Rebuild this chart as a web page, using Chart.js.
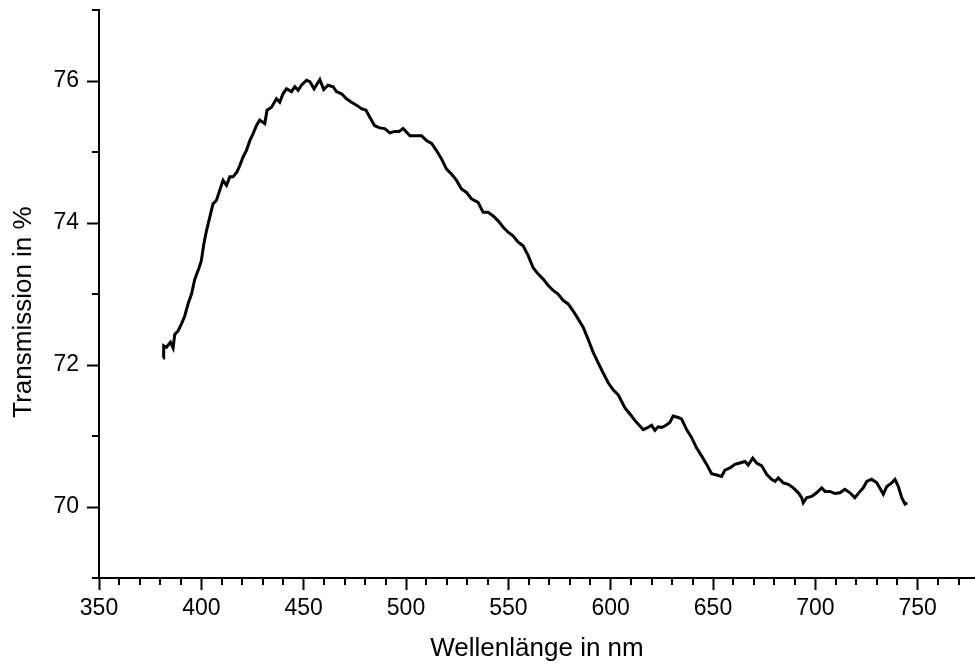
<!DOCTYPE html>
<html>
<head>
<meta charset="utf-8">
<title>Transmission</title>
<script src="https://cdn.jsdelivr.net/npm/chart.js@4.4.1/dist/chart.umd.min.js"></script>
<style>
    html, body { margin: 0; padding: 0; background: #fff; }
    #chart { display: block; }
</style>
</head>
<body>
<canvas id="chart" width="975" height="664"></canvas>
<script>
const wavelength = [
    381.3, 381.6, 382.9, 384.9, 386.2, 387.0, 388.6, 390.3, 391.9, 393.5,
    395.2, 396.8, 398.9, 400.0, 401.2, 402.5, 404.1, 405.7, 407.4, 409.0,
    410.6, 412.3, 413.9, 415.5, 417.4, 418.8, 420.4, 422.0, 423.7, 425.3,
    426.9, 428.5, 431.0, 432.1, 434.3, 436.7, 438.3, 439.9, 441.6, 444.0,
    445.7, 447.3, 448.9, 451.4, 453.0, 455.1, 457.9, 459.8, 461.9, 464.4,
    466.0, 468.5, 470.9, 473.4, 475.8, 478.2, 480.4, 482.3, 484.7, 487.2,
    489.6, 492.1, 494.5, 496.6, 498.6, 501.9, 505.1, 507.6, 510.0, 512.5,
    514.9, 517.4, 519.8, 522.2, 524.7, 527.1, 529.6, 532.0, 535.2, 537.7,
    540.1, 542.6, 545.0, 547.5, 549.9, 552.3, 554.8, 557.2, 559.7, 562.1,
    564.6, 567.0, 569.5, 571.9, 574.3, 576.8, 579.2, 581.7, 584.1, 586.6,
    589.0, 591.4, 593.9, 596.3, 598.8, 601.2, 603.7, 605.3, 606.9, 609.4,
    611.8, 614.3, 615.9, 617.5, 620.0, 621.6, 623.2, 624.9, 626.5, 628.9,
    630.5, 633.0, 634.6, 637.1, 639.5, 642.0, 644.4, 646.9, 649.3, 651.8,
    654.2, 655.8, 658.3, 660.7, 663.1, 665.6, 667.2, 669.4, 671.3, 673.8,
    676.2, 678.6, 680.3, 681.9, 684.3, 686.8, 689.2, 691.7, 693.3, 694.1,
    695.7, 698.2, 700.6, 703.1, 704.7, 707.1, 709.6, 712.0, 714.4, 716.9,
    719.3, 721.8, 723.4, 725.1, 727.5, 730.0, 733.2, 734.9, 737.3, 738.9,
    740.5, 742.2, 743.8, 744.9
];
const transmission = [
    72.10, 72.27, 72.25, 72.32, 72.24, 72.43, 72.48, 72.58, 72.69, 72.86,
    73.00, 73.21, 73.37, 73.47, 73.70, 73.89, 74.08, 74.27, 74.32, 74.46,
    74.60, 74.53, 74.65, 74.65, 74.72, 74.81, 74.93, 75.02, 75.16, 75.26,
    75.37, 75.45, 75.40, 75.59, 75.63, 75.75, 75.70, 75.82, 75.89, 75.85,
    75.92, 75.87, 75.94, 76.01, 75.99, 75.89, 76.02, 75.88, 75.94, 75.92,
    75.85, 75.82, 75.75, 75.70, 75.66, 75.61, 75.59, 75.49, 75.37, 75.34,
    75.33, 75.27, 75.29, 75.29, 75.33, 75.23, 75.23, 75.23, 75.16, 75.12,
    75.02, 74.90, 74.76, 74.69, 74.60, 74.48, 74.43, 74.34, 74.29, 74.15,
    74.15, 74.10, 74.03, 73.94, 73.87, 73.82, 73.73, 73.68, 73.54, 73.37,
    73.28, 73.21, 73.12, 73.05, 73.00, 72.91, 72.86, 72.76, 72.65, 72.53,
    72.36, 72.18, 72.03, 71.89, 71.75, 71.65, 71.58, 71.49, 71.40, 71.31,
    71.22, 71.14, 71.09, 71.11, 71.15, 71.08, 71.13, 71.12, 71.14, 71.19,
    71.28, 71.26, 71.24, 71.09, 70.98, 70.83, 70.72, 70.60, 70.47, 70.45,
    70.43, 70.52, 70.55, 70.60, 70.62, 70.64, 70.59, 70.69, 70.62, 70.58,
    70.46, 70.39, 70.36, 70.41, 70.34, 70.32, 70.27, 70.20, 70.13, 70.06,
    70.13, 70.15, 70.20, 70.27, 70.22, 70.22, 70.19, 70.20, 70.25, 70.20,
    70.13, 70.22, 70.27, 70.36, 70.39, 70.34, 70.18, 70.29, 70.34, 70.39,
    70.29, 70.13, 70.04, 70.06
];

const xTicks = [350, 400, 450, 500, 550, 600, 650, 700, 750];
const yTicks = [70, 72, 74, 76];
const yMinor = [69, 71, 73, 75, 77];
const xMinor = [];
for (let v = 360; v <= 770; v += 10) {
    if (v % 50 !== 0) xMinor.push(v);
}

const FONT = "'Liberation Sans', Arial, sans-serif";

// Nebenstriche (Chart.js kennt keine minor ticks)
const minorTicks = {
    id: "minorTicks",
    afterDraw(chart) {
        const { ctx, scales: { x, y } } = chart;
        ctx.save();
        ctx.strokeStyle = "#000";
        ctx.lineWidth = 2;
        ctx.beginPath();
        xMinor.forEach((v) => {
            const px = Math.round(x.getPixelForValue(v));
            ctx.moveTo(px, x.top);
            ctx.lineTo(px, x.top + 7);
        });
        yMinor.forEach((v) => {
            const py = Math.round(y.getPixelForValue(v));
            ctx.moveTo(y.right, py);
            ctx.lineTo(y.right - 7, py);
        });
        ctx.stroke();
        ctx.restore();
    }
};

new Chart(document.getElementById("chart"), {
    type: "line",
    data: {
        datasets: [
            {
                data: wavelength.map((w, i) => ({ x: w, y: transmission[i] })),
                borderColor: "#000",
                borderWidth: 3,
                pointRadius: 0,
                tension: 0,
                fill: false
            }
        ]
    },
    options: {
        responsive: false,
        animation: false,
        devicePixelRatio: 1,
        layout: { padding: { top: 10, right: 0, bottom: 0, left: 0 } },
        plugins: {
            legend: { display: false },
            tooltip: { enabled: false }
        },
        scales: {
            x: {
                type: "linear",
                position: "bottom",
                min: 350,
                max: 778,
                afterBuildTicks: (scale) => {
                    scale.ticks = xTicks.map((v) => ({ value: v }));
                },
                afterFit: (scale) => {
                    scale.height = 86;
                    scale.paddingLeft = 0;
                    scale.paddingRight = 0;
                },
                ticks: {
                    color: "#000",
                    padding: 5,
                    font: { family: FONT, size: 23 }
                },
                grid: {
                    drawOnChartArea: false,
                    drawTicks: true,
                    tickLength: 12,
                    tickWidth: 2,
                    tickColor: "#000"
                },
                border: { display: true, color: "#000", width: 2 },
                title: {
                    display: true,
                    text: "Wellenlänge in nm",
                    color: "#000",
                    font: { family: FONT, size: 26 },
                    padding: { top: 0, bottom: 0 }
                }
            },
            y: {
                type: "linear",
                min: 69,
                max: 77,
                afterBuildTicks: (scale) => {
                    scale.ticks = yTicks.map((v) => ({ value: v }));
                },
                afterFit: (scale) => {
                    scale.width = 99;
                    scale.paddingTop = 0;
                    scale.paddingBottom = 0;
                },
                ticks: {
                    color: "#000",
                    padding: 8,
                    font: { family: FONT, size: 23 }
                },
                grid: {
                    drawOnChartArea: false,
                    drawTicks: true,
                    tickLength: 12,
                    tickWidth: 2,
                    tickColor: "#000"
                },
                border: { display: true, color: "#000", width: 2 },
                title: {
                    display: true,
                    text: "Transmission in %     ",
                    color: "#000",
                    font: { family: FONT, size: 26 },
                    padding: { top: 8, bottom: 0 }
                }
            }
        }
    },
    plugins: [minorTicks]
});
</script>
</body>
</html>
